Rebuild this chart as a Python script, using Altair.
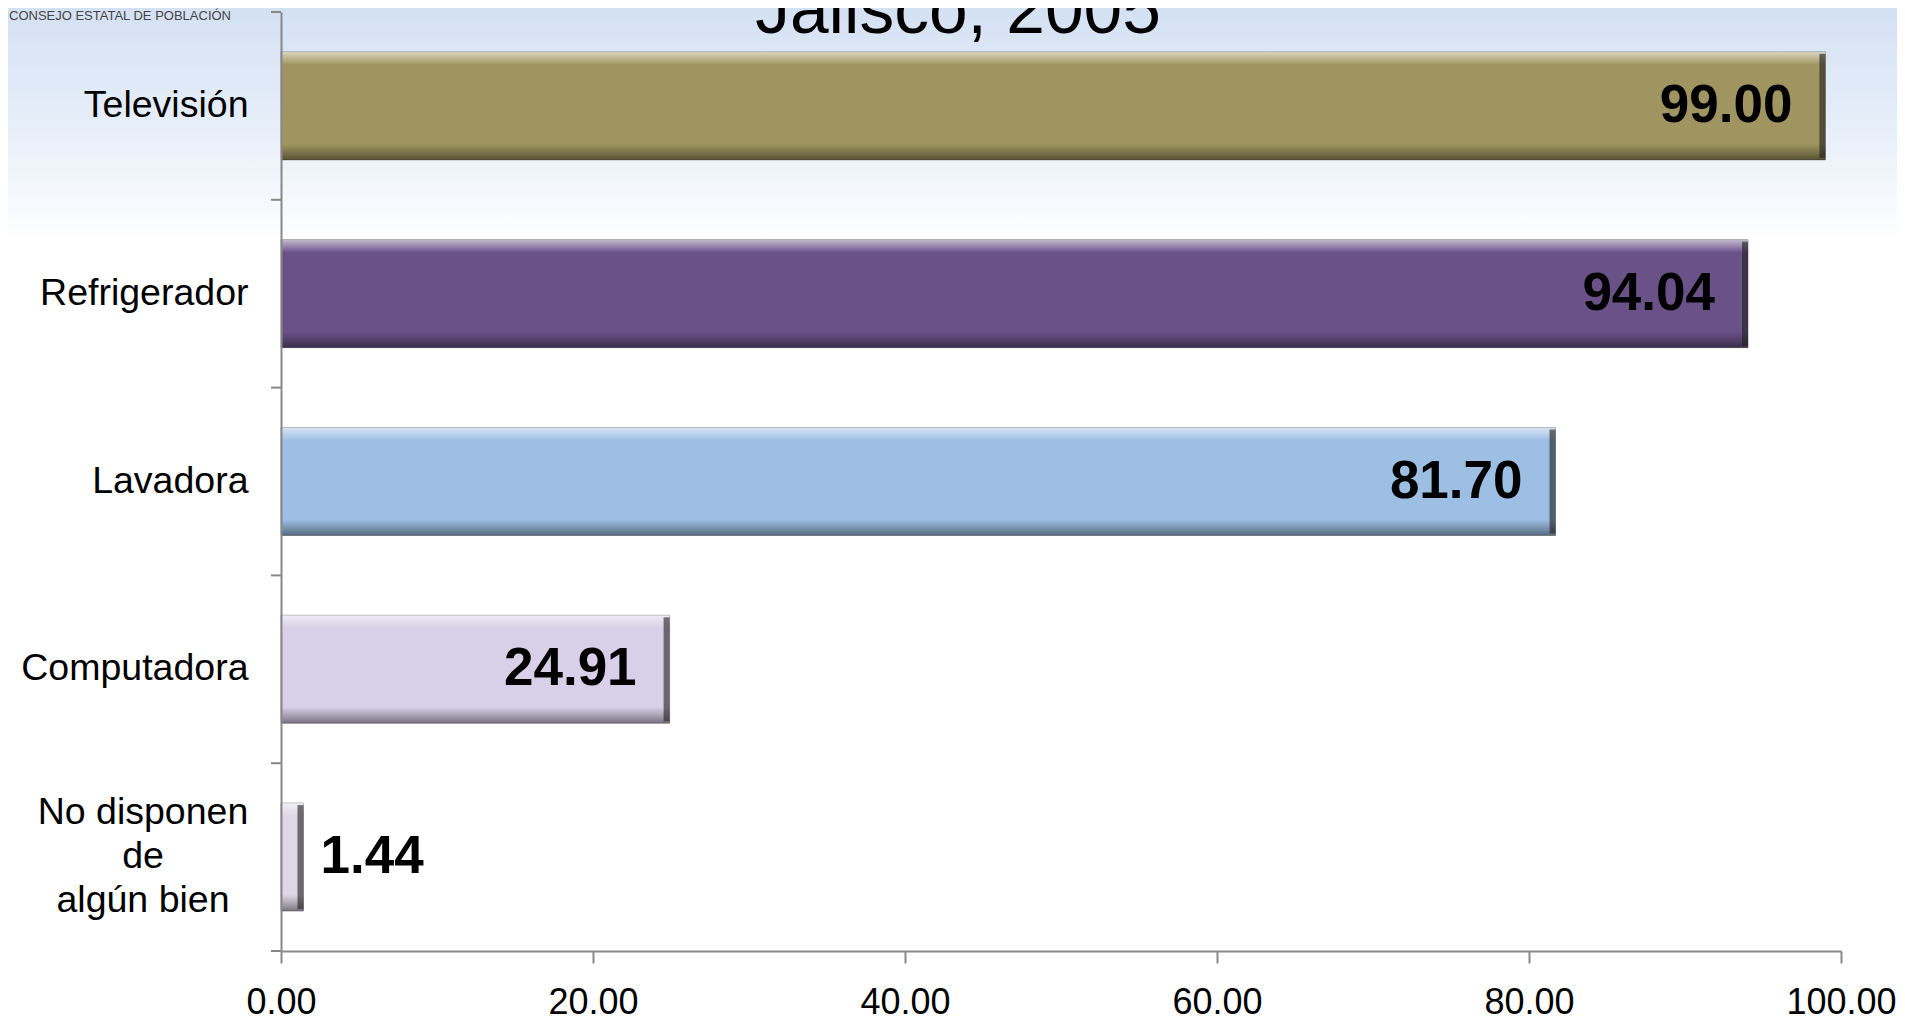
import altair as alt
import pandas as pd

# ---- data ----
categories = ["Televisión", "Refrigerador", "Lavadora", "Computadora", "No disponen de algún bien"]
values = [99.00, 94.04, 81.70, 24.91, 1.44]
bar_colors = ["#A09560", "#6A5288", "#9DBFE4", "#D8CFE8", "#DCD8E6"]
x_ticks = [0, 20, 40, 60, 80, 100]
title_text = "Jalisco, 2005"
source_text = "CONSEJO ESTATAL DE POBLACIÓN"
multi_label = "No disponen\nde\nalgún bien"

df = pd.DataFrame({"cat": categories, "val": values})
df["lab"] = [f"{v:.2f}" for v in values]

FONT = "Liberation Sans"
W, H = 1560, 939
STEP = H / len(categories)
AXIS_GRAY = "#888888"

y_enc = alt.Y(
    "cat:N",
    sort=categories,
    scale=alt.Scale(domain=categories, paddingInner=0.425, paddingOuter=0.2125),
    axis=alt.Axis(
        title=None,
        labelFont=FONT,
        labelFontSize=37.5,
        labelColor="#000000",
        labelPadding=33,
        labelLimit=500,
        labelExpr=f"datum.value == '{categories[-1]}' ? '' : datum.value",
        ticks=False,
        domainColor=AXIS_GRAY,
        domainWidth=2,
        zindex=2,
    ),
)
x_enc = alt.X(
    "val:Q",
    scale=alt.Scale(domain=[0, 100], nice=False),
    axis=alt.Axis(
        title=None,
        values=x_ticks,
        format=".2f",
        labelFont=FONT,
        labelFontSize=36,
        labelColor="#000000",
        labelPadding=22,
        tickSize=12,
        tickWidth=2,
        tickColor=AXIS_GRAY,
        domainColor=AXIS_GRAY,
        domainWidth=2,
        grid=False,
        labelFlush=False,
        zindex=2,
    ),
)

one = pd.DataFrame({"t": [0]})

bg = alt.Chart(one).mark_rect(
    fill=alt.Gradient(
        gradient="linear",
        stops=[
            alt.GradientStop(color="#D4E1F3", offset=0),
            alt.GradientStop(color="#E6EEF9", offset=0.5),
            alt.GradientStop(color="#FFFFFF", offset=1),
        ],
        x1=0, x2=0, y1=0, y2=1,
    )
).encode(x=alt.value(-273), x2=alt.value(W + 56), y=alt.value(-4), y2=alt.value(230))

bars = alt.Chart(df).mark_bar(stroke="#5a5a5a", strokeWidth=1, strokeOpacity=0.5).encode(
    y=y_enc,
    x=x_enc,
    color=alt.Color("cat:N", scale=alt.Scale(domain=categories, range=bar_colors), legend=None),
)

bevel = alt.Chart(df).mark_bar(
    fill=alt.Gradient(
        gradient="linear",
        stops=[
            alt.GradientStop(color="rgba(255,255,255,0.6)", offset=0),
            alt.GradientStop(color="rgba(255,255,255,0.25)", offset=0.07),
            alt.GradientStop(color="rgba(255,255,255,0)", offset=0.12),
            alt.GradientStop(color="rgba(0,0,0,0)", offset=0.85),
            alt.GradientStop(color="rgba(0,0,0,0.2)", offset=0.92),
            alt.GradientStop(color="rgba(0,0,0,0.45)", offset=1),
        ],
        x1=0, x2=0, y1=0, y2=1,
    )
).encode(y=alt.Y("cat:N", sort=categories), x=alt.X("val:Q"))

edge = alt.Chart(df).mark_tick(
    orient="vertical", thickness=6, size=104, color="#1e1e1e", opacity=0.6, xOffset=-3
).encode(y=alt.Y("cat:N", sort=categories), x=alt.X("val:Q"))

# y-axis ticks at the boundaries between categories
ytick_top = alt.Chart(df).mark_rule(color=AXIS_GRAY, strokeWidth=2, yOffset=-STEP / 2).encode(
    y=alt.Y("cat:N", sort=categories), x=alt.value(-10), x2=alt.value(0)
)
ytick_bottom = alt.Chart(one).mark_rule(color=AXIS_GRAY, strokeWidth=2).encode(
    y=alt.value(H), x=alt.value(-10), x2=alt.value(0)
)

inside = alt.Chart(df).transform_filter("datum.val >= 10").mark_text(
    align="right", baseline="middle", dx=-33, font=FONT, fontSize=53, fontWeight="bold", color="#000000"
).encode(y=alt.Y("cat:N", sort=categories), x=alt.X("val:Q"), text="lab:N")

outside = alt.Chart(df).transform_filter("datum.val < 10").mark_text(
    align="left", baseline="middle", dx=17, font=FONT, fontSize=53, fontWeight="bold", color="#000000"
).encode(y=alt.Y("cat:N", sort=categories), x=alt.X("val:Q"), text="lab:N")

ml = alt.Chart(pd.DataFrame({"cat": [categories[-1]], "txt": [multi_label]})).mark_text(
    align="center", baseline="middle", lineBreak="\n", lineHeight=44,
    font=FONT, fontSize=37.5, color="#000000", dx=-138, dy=-44
).encode(y=alt.Y("cat:N", sort=categories), x=alt.value(0), text="txt:N")

title = alt.Chart(pd.DataFrame({"t": [title_text]})).mark_text(
    align="center", baseline="alphabetic", font=FONT, fontSize=69.5, color="#000000"
).encode(x=alt.value(677), y=alt.value(21), text="t:N")

source = alt.Chart(pd.DataFrame({"t": [source_text]})).mark_text(
    align="left", baseline="middle", font=FONT, fontSize=13, color="#444444"
).encode(x=alt.value(-272), y=alt.value(4), text="t:N")

chart = alt.layer(
    bg, bars, bevel, edge, ytick_top, ytick_bottom, inside, outside, ml, title, source
).properties(
    width=W,
    height=H,
    padding={"left": 273, "top": 4, "right": 56, "bottom": 73},
    autosize=alt.AutoSizeParams(type="none"),
    background="#FFFFFF",
).configure_view(stroke=None)

chart.save("out.html", embed_options={"renderer": "svg", "actions": False})
